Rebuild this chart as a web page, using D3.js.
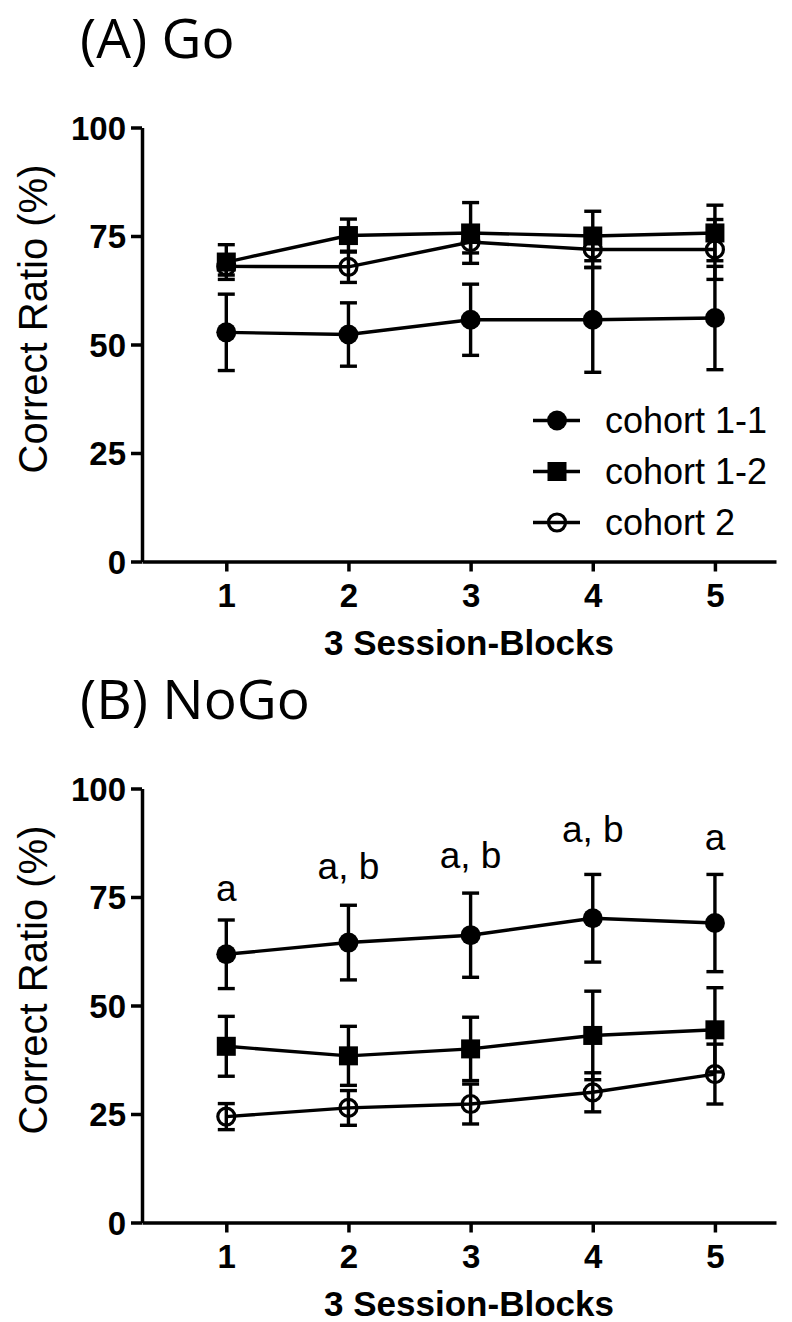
<!DOCTYPE html>
<html lang="en">
<head>
<meta charset="UTF-8">
<title>Go / NoGo correct ratio</title>
<script src="https://d3js.org/d3.v7.min.js"></script>
<style>
  body { margin: 0; background: #fff; }
  svg { display: block; }
  .tick text { font-family: "Liberation Sans", Arial, sans-serif; font-weight: bold; font-size: 33px; fill: #000; }
  .lbl { font-family: "Liberation Sans", Arial, sans-serif; fill: #000; }
  .ttl { font-family: "Open Sans", "Noto Sans", sans-serif; fill: #000; }
</style>
</head>
<body>
<svg id="chart" width="792" height="1322"></svg>
<script>
// data
const blocks = [1, 2, 3, 4, 5];
const seriesNames = ["cohort 1-1", "cohort 1-2", "cohort 2"];
const yTicks = [0, 25, 50, 75, 100];

// (A) Go
const goMean11 = [52.8, 52.3, 55.7, 55.7, 56.1];
const goErr11  = [8.8, 7.3, 8.2, 12.1, 11.9];
const goMean12 = [69.0, 75.1, 75.7, 75.0, 75.7];
const goErr12  = [4.0, 3.8, 7.0, 5.7, 6.4];
const goMean2  = [68.0, 67.9, 73.6, 71.9, 71.9];
const goErr2   = [2.0, 3.6, 2.5, 4.2, 6.9];

// (B) NoGo
const nogoMean11 = [61.8, 64.5, 66.2, 70.1, 69.0];
const nogoErr11  = [7.9, 8.6, 9.7, 10.1, 11.2];
const nogoMean12 = [40.6, 38.4, 40.0, 43.1, 44.4];
const nogoErr12  = [6.9, 6.8, 7.3, 10.2, 9.7];
const nogoMean2  = [24.4, 26.4, 27.3, 30.0, 34.2];
const nogoErr2   = [3.0, 4.0, 4.6, 4.5, 6.9];

// significance letters above NoGo points (y in data units)
const nogoLetters = ["a", "a, b", "a, b", "a, b", "a"];
const nogoLetterY = [74, 79.2, 81.6, 87.7, 85.9];

const markers = ["circle", "square", "open"];

const svg = d3.select("#chart");

function drawMarker(g, type, cx, cy) {
  if (type === "square") {
    g.append("rect").attr("x", cx - 9.5).attr("y", cy - 9.5)
      .attr("width", 19).attr("height", 19).attr("fill", "#000");
  } else if (type === "circle") {
    g.append("circle").attr("cx", cx).attr("cy", cy).attr("r", 10).attr("fill", "#000");
  } else {
    g.append("circle").attr("cx", cx).attr("cy", cy).attr("r", 8.5)
      .attr("fill", "none").attr("stroke", "#000").attr("stroke-width", 3.2);
  }
}

function drawPanel(top, title, means, errs, letters, letterY, showLegend) {
  const g = svg.append("g").attr("transform", `translate(0,${top})`);

  const x = d3.scaleLinear().domain([0.31, 5.5]).range([142, 776]);
  const y = d3.scaleLinear().domain([0, 100]).range([561.5, 127.5]);

  g.append("text").attr("class", "ttl")
    .attr("x", 80).attr("y", 58)
    .style("font-size", "55px")
    .text(title);

  // axes
  const yAxis = d3.axisLeft(y).tickValues(yTicks).tickSize(11).tickSizeOuter(0).tickPadding(5);
  const xAxis = d3.axisBottom(x).tickValues(blocks).tickFormat(d3.format("d"))
    .tickSize(10).tickSizeOuter(0).tickPadding(12);

  const ya = g.append("g").attr("transform", "translate(142,0)").call(yAxis);
  const xa = g.append("g").attr("transform", "translate(0,561.5)").call(xAxis);
  [ya, xa].forEach(a => {
    a.selectAll("path, line").attr("stroke", "#000").attr("stroke-width", 3.5);
  });
  ya.selectAll(".tick text").attr("dy", "0.36em");

  g.append("text").attr("class", "lbl")
    .attr("transform", "translate(47,319) rotate(-90)")
    .attr("text-anchor", "middle")
    .style("font-size", "40px")
    .text("Correct Ratio (%)");

  g.append("text").attr("class", "lbl")
    .attr("x", 469).attr("y", 655)
    .attr("text-anchor", "middle")
    .style("font-size", "35px").style("font-weight", "bold")
    .text("3 Session-Blocks");

  // series
  means.forEach((m, s) => {
    const e = errs[s];
    const sg = g.append("g");
    blocks.forEach((b, i) => {
      const cx = x(b), y1 = y(m[i] + e[i]), y0 = y(m[i] - e[i]);
      sg.append("line").attr("x1", cx).attr("x2", cx).attr("y1", y1).attr("y2", y0)
        .attr("stroke", "#000").attr("stroke-width", 3.4);
      [y1, y0].forEach(yy => {
        sg.append("line").attr("x1", cx - 8.5).attr("x2", cx + 8.5).attr("y1", yy).attr("y2", yy)
          .attr("stroke", "#000").attr("stroke-width", 3.4);
      });
    });
    const line = d3.line().x((d, i) => x(blocks[i])).y(d => y(d));
    sg.append("path").datum(m).attr("d", line)
      .attr("fill", "none").attr("stroke", "#000").attr("stroke-width", 3.4);
    blocks.forEach((b, i) => drawMarker(sg, markers[s], x(b), y(m[i])));
  });

  if (letters) {
    letters.forEach((t, i) => {
      g.append("text").attr("class", "lbl")
        .attr("x", x(blocks[i])).attr("y", y(letterY[i]))
        .attr("text-anchor", "middle")
        .style("font-size", "37px")
        .text(t);
    });
  }

  if (showLegend) {
    const lg = g.append("g");
    seriesNames.forEach((name, s) => {
      const ly = 420.5 + s * 51;
      lg.append("line").attr("x1", 533).attr("x2", 580).attr("y1", ly).attr("y2", ly)
        .attr("stroke", "#000").attr("stroke-width", 3.4);
      drawMarker(lg, markers[s], 557, ly);
      lg.append("text").attr("class", "lbl")
        .attr("x", 605).attr("y", ly + 12)
        .style("font-size", "36px")
        .text(name);
    });
  }
}

drawPanel(0, "(A) Go", [goMean11, goMean12, goMean2], [goErr11, goErr12, goErr2], null, null, true);
drawPanel(661, "(B) NoGo", [nogoMean11, nogoMean12, nogoMean2], [nogoErr11, nogoErr12, nogoErr2], nogoLetters, nogoLetterY, false);
</script>
</body>
</html>
